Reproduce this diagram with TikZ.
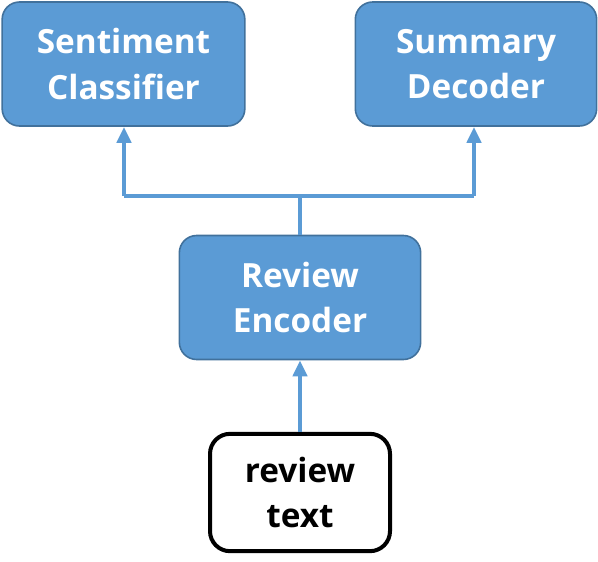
\documentclass[tikz,border=0pt]{standalone}
\usepackage{fontspec}
\setmainfont{Open Sans}[Ligatures=NoCommon]
\usetikzlibrary{arrows.meta}
\definecolor{boxblue}{RGB}{91,155,213}
\definecolor{edgeblue}{RGB}{65,113,156}

\begin{document}
\begin{tikzpicture}[x=0.75pt,y=-0.75pt,
    bluebox/.style={draw=edgeblue, line width=1.2pt, fill=boxblue, rounded corners=13pt, text=white, font=\fontsize{25}{34}\selectfont\bfseries, align=center, inner sep=0pt},
    link/.style={draw=boxblue, line width=3pt},
    uparrow/.style={link, -{Triangle[width=10.5pt,length=12pt]}}]
        \useasboundingbox (0,0) rectangle (598,561);
        \node[bluebox, minimum width=182pt, minimum height=93pt](sent) at (123.5,64)  {Sentiment\\Classifier};
        \node[bluebox, minimum width=181pt, minimum height=93pt](summ) at (476,64)  {Summary\\Decoder};
        \node[bluebox, minimum width=181pt, minimum height=93pt](enc) at (300,297.5)  {Review\\Encoder};
        \node[draw=black, line width=3pt, fill=white, rounded corners=15pt, minimum width=135pt, minimum height=88pt, align=center, inner sep=0pt, font=\fontsize{25}{34}\selectfont\bfseries](txt) at (300,492.5)  {review\\text};
        \coordinate (jl) at (124,196);   % split
        \coordinate (jr) at (474,196);
        \draw[uparrow] (txt.north) -- (enc.south);
        \draw[link] (enc.north) -- (enc.north |- jl);
        \draw[link] (jl) -- (jr);
        \draw[uparrow] (jl) -- (jl |- sent.south);
        \draw[uparrow] (jr) -- (jr |- summ.south);

    \end{tikzpicture}
\end{document}
